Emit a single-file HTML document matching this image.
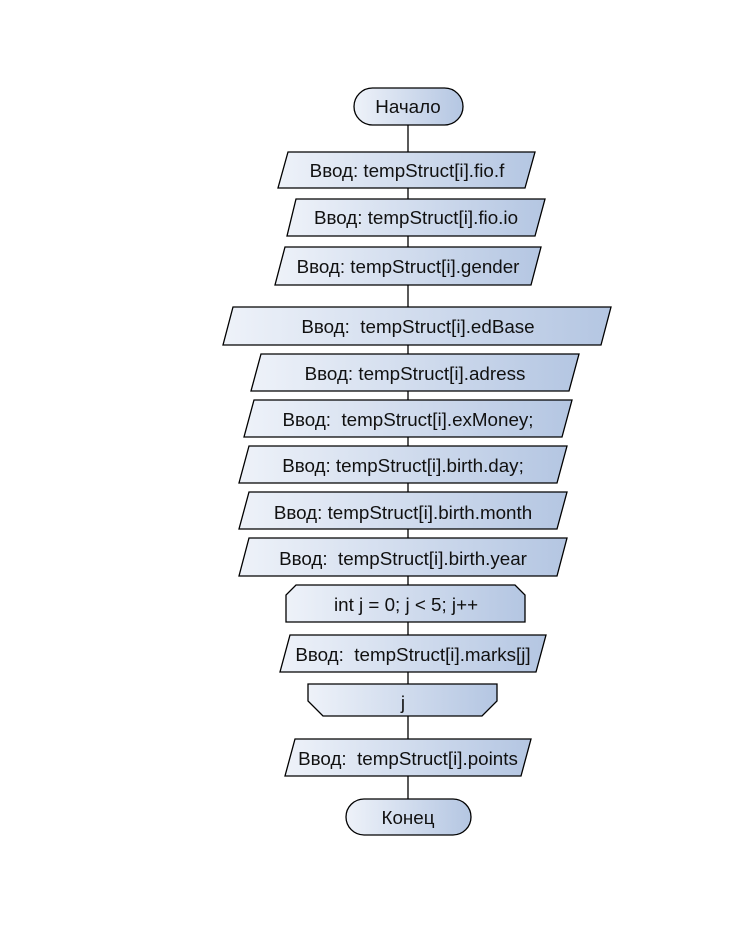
<!DOCTYPE html>
<html><head><meta charset="utf-8"><style>html,body{margin:0;padding:0;background:#fff}svg{display:block}text{white-space:pre}</style></head>
<body>
<svg width="747" height="930" viewBox="0 0 747 930" xmlns="http://www.w3.org/2000/svg">
<defs>
<linearGradient id="g" x1="0" y1="0" x2="1" y2="0">
<stop offset="0" stop-color="#eef2f9"/><stop offset="1" stop-color="#b4c6e2"/>
</linearGradient>
</defs>
<line x1="408" y1="120" x2="408" y2="805" stroke="#000" stroke-width="1.3"/>
<g stroke="#000" stroke-width="1.3" fill="url(#g)">
<rect x="354" y="88" width="109" height="37" rx="18.5"/>
<polygon points="288,152 535,152 525,188 278,188"/>
<polygon points="296,199 545,199 535,236 287,236"/>
<polygon points="285,247 541,247 531,285 275,285"/>
<polygon points="233,307 611,307 601,345 223,345"/>
<polygon points="261,354 579,354 569,391 251,391"/>
<polygon points="254,400 572,400 562,437 244,437"/>
<polygon points="249,446 567,446 557,483 239,483"/>
<polygon points="249,492 567,492 557,529 239,529"/>
<polygon points="249,538 567,538 557,576 239,576"/>
<polygon points="296,585 515,585 525,595 525,622 286,622 286,595"/>
<polygon points="290,635 546,635 536,672 280,672"/>
<polygon points="308,684 497,684 497,701 482,716 323,716 308,701"/>
<polygon points="295,739 531,739 521,776 285,776"/>
<rect x="346" y="799" width="125" height="36" rx="18"/>
</g>
<g font-family="Liberation Sans, sans-serif" font-size="18.8" text-anchor="middle" fill="#111" xml:space="preserve">
<text x="408" y="113">Начало</text>
<text x="407" y="177">Ввод: tempStruct[i].fio.f</text>
<text x="416" y="224">Ввод: tempStruct[i].fio.io</text>
<text x="408" y="273">Ввод: tempStruct[i].gender</text>
<text x="418" y="333">Ввод:  tempStruct[i].edBase</text>
<text x="415" y="380">Ввод: tempStruct[i].adress</text>
<text x="408" y="426">Ввод:  tempStruct[i].exMoney;</text>
<text x="403" y="472">Ввод: tempStruct[i].birth.day;</text>
<text x="403" y="519">Ввод: tempStruct[i].birth.month</text>
<text x="403" y="565">Ввод:  tempStruct[i].birth.year</text>
<text x="406" y="611">int j = 0; j &lt; 5; j++</text>
<text x="413" y="661">Ввод:  tempStruct[i].marks[j]</text>
<text x="403" y="709">j</text>
<text x="408" y="765">Ввод:  tempStruct[i].points</text>
<text x="408" y="824">Конец</text>
</g>
</svg>
</body></html>
